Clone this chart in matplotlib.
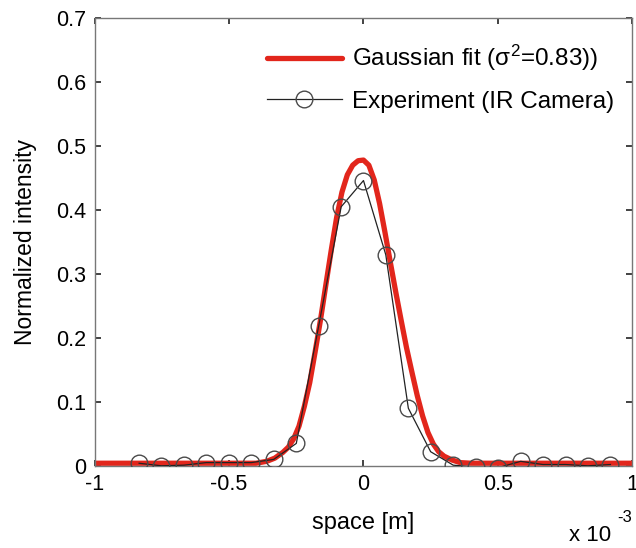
import numpy as np
import matplotlib
matplotlib.use('Agg')
import matplotlib.pyplot as plt

plt.rcParams['font.family'] = ['Liberation Sans', 'DejaVu Sans']

# Experiment (IR camera) samples, x in units of 1e-3 m
exp_x = [-0.835, -0.752, -0.668, -0.585, -0.501, -0.418, -0.334, -0.250,
         -0.167, -0.083, 0.000, 0.083, 0.167, 0.250, 0.334, 0.418,
         0.501, 0.585, 0.668, 0.752, 0.835, 0.919]
exp_y = [0.004, 0.000, 0.001, 0.005, 0.005, 0.005, 0.010, 0.035,
         0.218, 0.405, 0.446, 0.330, 0.090, 0.022, 0.001, -0.002,
         -0.003, 0.007, 0.002, 0.002, 0.000, 0.002]

# Gaussian fit curve
fit_x = [-1.00, -0.40, -0.36, -0.33, -0.30, -0.28, -0.26, -0.24, -0.22,
         -0.20, -0.18, -0.16, -0.14, -0.12, -0.10, -0.08, -0.06, -0.04,
         -0.02, 0.00, 0.02, 0.04, 0.06, 0.08, 0.10, 0.12, 0.14, 0.16,
         0.18, 0.20, 0.22, 0.24, 0.26, 0.28, 0.30, 0.33, 0.36, 0.40, 1.00]
fit_y = [0.004, 0.004, 0.007, 0.012, 0.021, 0.029, 0.042, 0.062, 0.093,
         0.130, 0.178, 0.228, 0.283, 0.337, 0.388, 0.428, 0.455, 0.470,
         0.477, 0.478, 0.470, 0.447, 0.410, 0.365, 0.318, 0.272, 0.228,
         0.185, 0.147, 0.110, 0.078, 0.052, 0.034, 0.022, 0.015, 0.009,
         0.005, 0.004, 0.004]

xticks = [-1, -0.5, 0, 0.5, 1]
xticklabels = ['-1', '-0.5', '0', '0.5', '1']
yticks = [0, 0.1, 0.2, 0.3, 0.4, 0.5, 0.6, 0.7]
yticklabels = ['0', '0.1', '0.2', '0.3', '0.4', '0.5', '0.6', '0.7']

fig = plt.figure(figsize=(6.36, 5.48), dpi=100)
ax = fig.add_axes([0.149, 0.150, 0.845, 0.817])

ax.plot(fit_x, fit_y, c='#e2261c', lw=3.8, solid_capstyle='round',
        solid_joinstyle='round',
        label=r'Gaussian fit ($\mathregular{\sigma^2}$=0.83))', zorder=2)
ax.plot(exp_x, exp_y, c='#222222', lw=0.9, marker='o', ms=12, mfc='none',
        mec='#4a4a4a', mew=1.0, label='Experiment (IR Camera)', zorder=3)

ax.set_xlim(-1, 1)
ax.set_ylim(0, 0.7)
ax.set_xticks(xticks)
ax.set_xticklabels(xticklabels)
ax.set_yticks(yticks)
ax.set_yticklabels(yticklabels)
ax.tick_params(direction='in', length=4, width=1.2, color='#222222',
               top=True, right=True, labelsize=15.5, pad=6)
for s in ax.spines.values():
    s.set_color('#777777')
    s.set_linewidth(1.0)

ax.set_xlabel('space [m]', fontsize=17, labelpad=12)
ax.set_ylabel('Normalized intensity', fontsize=16.5, labelpad=14)
fig.text(0.895, 0.004, 'x 10', fontsize=16, ha='left', va='bottom')
fig.text(0.970, 0.042, '-3', fontsize=12, ha='left', va='bottom')

ax.legend(loc='upper left', bbox_to_anchor=(0.320, 0.944), frameon=False,
          fontsize=17.5, handlelength=3.1, handletextpad=0.4, labelspacing=0.72,
          borderpad=0, borderaxespad=0)

fig.savefig('out.png', dpi=100)
